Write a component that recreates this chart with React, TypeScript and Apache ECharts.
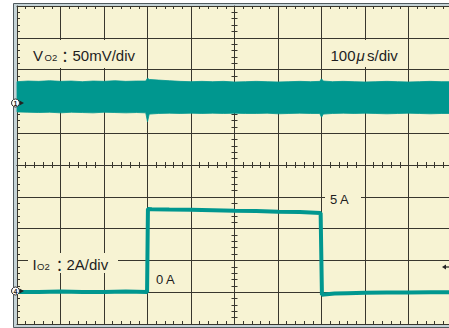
import React, { useEffect, useRef } from 'react';
import * as echarts from 'echarts';

// Time axis in divisions (100 µs/div), vertical axis in divisions (10 div screen)
const voltTime = [0, 0.25, 0.5, 0.75, 1, 1.25, 1.5, 1.75, 2, 2.25, 2.5, 2.75, 2.96, 3.0, 3.04, 3.25, 3.5, 3.75, 4, 4.25, 4.5, 4.75, 5, 5.25, 5.5, 5.75, 6, 6.25, 6.5, 6.75, 6.96, 7.0, 7.04, 7.25, 7.5, 7.75, 8, 8.25, 8.5, 8.75, 9, 9.25, 9.5, 9.75, 10];
const voltUpper = [7.62, 7.64, 7.63, 7.65, 7.63, 7.64, 7.62, 7.64, 7.63, 7.65, 7.63, 7.64, 7.64, 7.73, 7.69, 7.67, 7.65, 7.63, 7.62, 7.63, 7.62, 7.63, 7.61, 7.62, 7.63, 7.62, 7.61, 7.62, 7.63, 7.62, 7.63, 7.71, 7.64, 7.62, 7.63, 7.62, 7.61, 7.62, 7.63, 7.62, 7.61, 7.62, 7.63, 7.62, 7.62];
const voltLower = [6.67, 6.66, 6.65, 6.66, 6.64, 6.66, 6.65, 6.64, 6.66, 6.65, 6.64, 6.65, 6.64, 6.36, 6.60, 6.62, 6.63, 6.62, 6.63, 6.62, 6.63, 6.62, 6.63, 6.62, 6.62, 6.63, 6.61, 6.62, 6.63, 6.62, 6.62, 6.50, 6.60, 6.62, 6.63, 6.62, 6.63, 6.62, 6.61, 6.62, 6.63, 6.62, 6.61, 6.62, 6.62];

const curTime = [0, 0.5, 1, 1.5, 2, 2.5, 2.99, 3.01, 3.1, 3.5, 4, 4.5, 5, 5.5, 6, 6.5, 6.98, 7.01, 7.06, 7.3, 7.6, 8, 8.5, 9, 9.5, 10];
const curValue = [1.01, 1.01, 1.02, 1.01, 1.01, 1.02, 1.01, 3.62, 3.61, 3.6, 3.59, 3.58, 3.56, 3.55, 3.53, 3.52, 3.49, 0.92, 0.93, 0.96, 0.97, 0.98, 0.99, 0.99, 1.0, 1.0];

const TEAL = '#00978f';
const BG = '#f7f3d3';
const DARK = '#38362d';
const FRAME = '#c5d3d6';
const FRAME_DARK = '#4f5a5e';
const TXT = '#1e1e1e';
const SANS = '"Liberation Sans", Arial, sans-serif';

function axis(position: string, extra: any = {}) {
  return {
    type: 'value',
    min: 0,
    max: 10,
    interval: 1,
    position,
    axisLine: { show: true, onZero: false, lineStyle: { color: DARK, width: 1 } },
    axisTick: { show: false, inside: true },
    minorTick: { show: true, splitNumber: 5, length: 3, lineStyle: { color: DARK, width: 1 } },
    axisLabel: { show: false },
    splitLine: { show: false },
    minorSplitLine: { show: false },
    ...extra,
  };
}

function txt(x: number, y: number, text: string, font: string) {
  return { type: 'text', x, y, z: 20, style: { text, font, fill: TXT, verticalAlign: 'middle', align: 'left' } };
}

function marker(cy: number, label: string) {
  return [
    { type: 'polygon', z: 20, shape: { points: [[19.5, cy - 2.5], [24, cy], [19.5, cy + 2.5]] }, style: { fill: '#222' } },
    { type: 'circle', z: 21, shape: { cx: 15.5, cy, r: 4 }, style: { fill: '#fff', stroke: '#333', lineWidth: 1 } },
    { type: 'text', z: 22, x: 15.5, y: cy + 0.5, style: { text: label, font: 'bold 7px ' + SANS, fill: '#222', align: 'center', verticalAlign: 'middle' } },
  ];
}

export default function App() {
  const ref = useRef<HTMLDivElement>(null);
  useEffect(() => {
    const chart = echarts.init(ref.current!, null, { renderer: 'svg' });
    const split = { show: true, lineStyle: { color: DARK, width: 1 } };
    const bandData = voltTime.map((t, i) => [t, voltUpper[i], voltLower[i]]);
    const option: any = {
      animation: false,
      grid: { left: 17, top: 6, width: 435, height: 318, containLabel: false, outerBoundsMode: 'none' },
      xAxis: [
        axis('bottom', { splitLine: split }),
        axis('top'),
        axis('bottom', { offset: -159 }),
        axis('top', { offset: -159 }),
      ],
      yAxis: [
        axis('left', { splitLine: split }),
        axis('left', { offset: -217.5 }),
        axis('right', { offset: -217.5, axisLine: { show: false, onZero: false } }),
      ],
      series: [
        {
          type: 'custom',
          silent: true,
          data: bandData,
          encode: { x: 0, y: [1, 2] },
          renderItem: (params: any, api: any) => {
            if (params.dataIndex !== 0) return null;
            const top = bandData.map((d) => api.coord([d[0], d[1]]));
            const bottom = bandData.map((d) => api.coord([d[0], d[2]])).reverse();
            return {
              type: 'polygon',
              shape: { points: top.concat(bottom) },
              style: { fill: TEAL, stroke: TEAL, lineWidth: 0.8 },
            };
          },
        },
        {
          type: 'line', symbol: 'none', showSymbol: false, silent: true,
          data: curTime.map((t, i) => [t, curValue[i]]),
          lineStyle: { width: 4, color: TEAL },
        },
      ],
      graphic: [
        { type: 'rect', z: -10, shape: { x: 13.5, y: 3.5, width: 460, height: 324 }, style: { fill: FRAME, stroke: FRAME_DARK, lineWidth: 1 } },
        { type: 'rect', z: -9, shape: { x: 17, y: 6, width: 450, height: 318 }, style: { fill: BG } },
        // label boxes
        { type: 'rect', z: 15, shape: { x: 20, y: 40, width: 125, height: 28 }, style: { fill: BG } },
        { type: 'rect', z: 15, shape: { x: 326, y: 40, width: 78, height: 27 }, style: { fill: BG } },
        { type: 'rect', z: 15, shape: { x: 325, y: 190, width: 36, height: 16 }, style: { fill: BG } },
        { type: 'rect', z: 15, shape: { x: 28, y: 253, width: 90, height: 20 }, style: { fill: BG } },
        // Vo2 label
        txt(33, 55, 'V', '15px ' + SANS),
        txt(44.5, 57, 'O2', '9.5px ' + SANS),
        txt(57.5, 55, '：', '15px "Noto Sans CJK JP", sans-serif'),
        txt(72.5, 55, '50mV/div', '15px ' + SANS),
        // time base
        txt(330.5, 55, '100', '15px ' + SANS),
        txt(356.5, 55, 'μ', 'italic 15px ' + SANS),
        txt(367, 55, 's/div', '15px ' + SANS),
        // current labels
        txt(330, 199, '5 A', '13px ' + SANS),
        txt(156, 279, '0 A', '13px ' + SANS),
        txt(32.5, 264, 'I', '15px ' + SANS),
        txt(37, 266, 'O2', '9.5px ' + SANS),
        txt(52, 264, '：', '15px "Noto Sans CJK JP", sans-serif'),
        txt(66.5, 264, '2A/div', '15px ' + SANS),
        // channel markers
        ...marker(103, '1'),
        ...marker(291, '4'),
        // trigger level arrow
        { type: 'polygon', z: 20, shape: { points: [[442, 267], [446, 264.5], [446, 269.5]] }, style: { fill: '#222' } },
        { type: 'line', z: 20, shape: { x1: 445, y1: 267, x2: 449, y2: 267 }, style: { stroke: '#222', lineWidth: 1.2 } },
      ],
    };
    chart.setOption(option);
    return () => chart.dispose();
  }, []);
  return <div ref={ref} style={{ position: 'absolute', left: 0, top: 0, width: 449, height: 328 }} />;
}
